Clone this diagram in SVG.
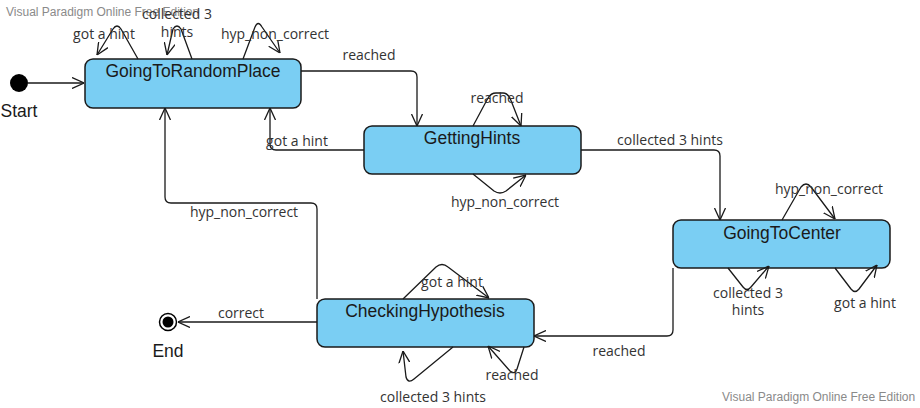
<svg xmlns="http://www.w3.org/2000/svg" width="920" height="408" viewBox="0 0 920 408">
<defs>
<style>
.node{fill:#7ACEF3;stroke:#1a1a1a;stroke-width:1.5}
.title{font-family:"Liberation Sans",Arial,sans-serif;font-size:17.5px;fill:#1a1a1a;text-anchor:middle}
.lbl{font-family:"Open Sans","Noto Sans",sans-serif;font-size:14px;fill:#333;text-anchor:middle}
.wm{font-family:"Liberation Sans",Arial,sans-serif;font-size:12px;fill:#8a8a8a}
.edge{fill:none;stroke:#1a1a1a;stroke-width:1.3;stroke-linejoin:round;marker-end:url(#arr)}
</style>
<marker id="arr" viewBox="0 0 12 12" refX="12" refY="6" markerWidth="12" markerHeight="12" markerUnits="userSpaceOnUse" orient="auto">
<path d="M0,0.5 L12,6 L0,11.5" fill="none" stroke="#1a1a1a" stroke-width="1.3"/>
</marker>
</defs>
<rect width="920" height="408" fill="#fff"/>
<text class="wm" x="6" y="16">Visual Paradigm Online Free Edition</text>
<text class="wm" x="722" y="401">Visual Paradigm Online Free Edition</text>

<g id="start">
<circle cx="19" cy="83" r="9" fill="#000"/>
<text class="title" x="19" y="117">Start</text>
</g>
<g id="end">
<circle cx="168" cy="322" r="8.5" fill="#fff" stroke="#000" stroke-width="1.5"/>
<circle cx="168" cy="322" r="5.5" fill="#000"/>
<text class="title" x="168" y="357">End</text>
</g>
<g id="GoingToRandomPlace">
<rect class="node" x="85" y="59" width="216" height="49" rx="8"/>
<text class="title" x="193" y="77">GoingToRandomPlace</text>
</g>
<g id="GettingHints">
<rect class="node" x="364" y="126" width="217" height="48" rx="8"/>
<text class="title" x="472" y="143.5">GettingHints</text>
</g>
<g id="GoingToCenter">
<rect class="node" x="673" y="220" width="217" height="48" rx="8"/>
<text class="title" x="782" y="238.5">GoingToCenter</text>
</g>
<g id="CheckingHypothesis">
<rect class="node" x="317" y="299" width="217" height="48" rx="8"/>
<text class="title" x="425" y="317">CheckingHypothesis</text>
</g>

<g id="connectors">
<path class="edge" d="M28,83 L84,83"/>
<path class="edge" d="M301,71 L411,71 Q417,71 417,77 L417,126"/>
<path class="edge" d="M581,150 L714,150 Q720,150 720,156 L720,220"/>
<path class="edge" d="M364,150 L276,150 Q270,150 270,144 L270,108"/>
<path class="edge" d="M317,299 L317,209 Q317,203 311,203 L171,203 Q165,203 165,197 L165,108"/>
<path class="edge" d="M317,322 L178,322"/>
<path class="edge" d="M673,268 L673,330 Q673,336 667,336 L534,336"/>

<path class="edge" d="M138,59 L121,29 Q117,23 113,29 L97,55"/>
<path class="edge" d="M192,59 L181,29 Q177,23 173,29 L167,55"/>
<path class="edge" d="M243,59 L255,27 Q258,20 262,27 L280,53"/>

<path class="edge" d="M473,126 L488,98 Q491,93 496,93 L503,93 Q507,93 510,98 L521,126"/>
<path class="edge" d="M473,174 L494,191 Q500,195 506,191 L526,175"/>

<path class="edge" d="M782,220 L801,187 Q806,181 811,187 L835,219"/>
<path class="edge" d="M728,268 L743,287 Q747,292 751,287 L769,266"/>
<path class="edge" d="M835,268 L851,289 Q855,294 859,289 L877,265"/>

<path class="edge" d="M403,299 L436,267 Q442,262 448,267 L489,298"/>
<path class="edge" d="M453,347 L414,379 Q408,384 406,377 L403,351"/>
<path class="edge" d="M524,347 L517,369 Q515,375 510,371 L488,346"/>
</g>

<g id="labels">
<text class="lbl" x="104" y="39">got a hint</text>
<text class="lbl" x="177" y="19">collected 3</text>
<text class="lbl" x="177" y="37">hints</text>
<text class="lbl" x="275" y="39">hyp_non_correct</text>
<text class="lbl" x="369" y="60">reached</text>
<text class="lbl" x="497" y="103">reached</text>
<text class="lbl" x="297" y="146">got a hint</text>
<text class="lbl" x="505" y="207">hyp_non_correct</text>
<text class="lbl" x="670" y="145">collected 3 hints</text>
<text class="lbl" x="829" y="194">hyp_non_correct</text>
<text class="lbl" x="748" y="298">collected 3</text>
<text class="lbl" x="748" y="315">hints</text>
<text class="lbl" x="865" y="308">got a hint</text>
<text class="lbl" x="244" y="217">hyp_non_correct</text>
<text class="lbl" x="241" y="318">correct</text>
<text class="lbl" x="452" y="287">got a hint</text>
<text class="lbl" x="512" y="380">reached</text>
<text class="lbl" x="433" y="402">collected 3 hints</text>
<text class="lbl" x="619" y="356">reached</text>
</g>
</svg>
